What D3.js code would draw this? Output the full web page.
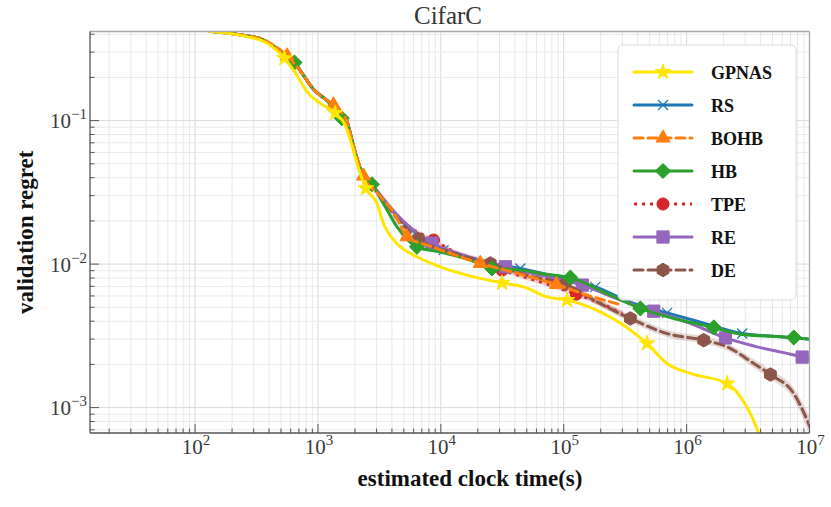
<!DOCTYPE html>
<html>
<head>
<meta charset="utf-8">
<script src="https://cdn.jsdelivr.net/npm/d3@7"></script>
<style>
  body { margin: 0; background: #fff; }
  svg { display: block; }
</style>
</head>
<body>
<div id="chart"></div>
<script>
// values: estimated clock time (s) vs validation regret
var gpnasTime = [132,264,384,533,673,812,1042,1380,1665,1888,2138,2455,3018,3415,4395,6387,9886,18460,31470,47200,73100,106400,198600,476400,693000,1074000,2138000,2742000,3305000,3865000,4300000];
var gpnasRegret = [0.418,0.385,0.347,0.272,0.208,0.159,0.132,0.113,0.0933,0.0676,0.0465,0.0337,0.0265,0.0192,0.0139,0.01125,0.00957,0.00815,0.0074,0.00694,0.00591,0.00561,0.00465,0.0028,0.00203,0.00173,0.00147,0.00119,0.000908,0.000663,0.00052];
var gpnasMarks = [3,7,11,18,21,23,26];

var rsTime = [132,232,358,492,628,758,914,1167,1516,1729,1935,2206,2612,3396,4416,6388,10520,17350,25260,44320,70830,113200,180900,348500,693700,1295000,2831000,4812000,1e7];
var rsRegret = [0.4195,0.3963,0.3658,0.3065,0.2610,0.2084,0.1664,0.1395,0.1168,0.0979,0.0677,0.0468,0.0380,0.0284,0.02163,0.01619,0.01252,0.01101,0.01016,0.00933,0.00852,0.00773,0.00694,0.00543,0.00457,0.00394,0.00328,0.00315,0.0030];
var rsMarks = [16,19,22,24,26];

var bohbTime = [132,232,358,561,758,914,1337,1516,1729,1935,2347,3210,4254,5297,8196,13100,20940,44320,87050,164700,300100];
var bohbRegret = [0.4195,0.3963,0.3658,0.2828,0.2084,0.1664,0.1287,0.1168,0.0979,0.0677,0.0411,0.0298,0.02197,0.01551,0.01335,0.01156,0.01011,0.00852,0.00722,0.00598,0.00518];
var bohbMarks = [3,6,10,13,16,18];

var hbTime = [132,232,358,492,644,758,914,1167,1565,1729,1935,2206,2748,3396,4416,6388,9888,17350,26080,44320,70830,113200,225200,420500,785200,1662000,2743000,7449000,1e7];
var hbRegret = [0.4195,0.3963,0.3658,0.3065,0.2539,0.2084,0.1664,0.1395,0.1039,0.0948,0.0677,0.0468,0.0360,0.0266,0.01812,0.0132,0.01213,0.01066,0.00933,0.00908,0.00852,0.00805,0.00625,0.00491,0.00418,0.00362,0.00325,0.00308,0.0030];
var hbMarks = [4,8,12,15,18,21,23,25,27];

var tpeTime = [132,232,358,492,628,758,914,1167,1516,1729,1935,2206,2612,3396,4671,8720,14390,31450,64490,126600,198600,300100];
var tpeRegret = [0.4195,0.3963,0.3658,0.3065,0.2610,0.2084,0.1664,0.1395,0.1168,0.0979,0.0677,0.0468,0.0380,0.0280,0.02028,0.01471,0.01156,0.00908,0.00752,0.00618,0.00534,0.00448];
var tpeMarks = [15,17,19];
var tpeSpread = [1,1,1,1,1,1,1,1,1,1,1,1,1,1.02,1.03,1.03,1.03,1.03,1.04,1.04,1.05,1.06];

var reTime = [132,232,358,492,628,758,914,1167,1516,1729,1935,2206,2612,3396,4671,8461,14390,33460,64490,141700,289100,539700,1074000,2070000,3752000,8719000,1e7];
var reRegret = [0.4195,0.3963,0.3658,0.3065,0.2610,0.2084,0.1664,0.1395,0.1168,0.0979,0.0677,0.0468,0.0380,0.0284,0.02094,0.01401,0.01174,0.00958,0.00838,0.00714,0.00561,0.0047,0.00386,0.00306,0.00265,0.00225,0.00217];
var reMarks = [15,17,19,21,23,25];

var deTime = [132,232,358,492,628,758,914,1167,1516,1729,1935,2206,2612,3396,4671,6582,11930,25260,53460,103000,186700,348500,693700,1378000,2137000,3519000,4812000,7449000,9579000,11000000];
var deRegret = [0.4195,0.3963,0.3658,0.3065,0.2610,0.2084,0.1664,0.1395,0.1168,0.0979,0.0677,0.0468,0.0380,0.0280,0.01964,0.01494,0.01213,0.01011,0.00825,0.00725,0.00546,0.00418,0.00328,0.00295,0.00265,0.00203,0.0017,0.00125,0.000815,0.0006];
var deMarks = [15,17,19,21,23,26];
var deSpread = [1,1,1,1,1,1,1,1,1,1,1.02,1.04,1.06,1.08,1.09,1.08,1.06,1.05,1.05,1.05,1.05,1.06,1.06,1.06,1.06,1.07,1.08,1.1,1.15,1.22];

var xMajor = [1e2,1e3,1e4,1e5,1e6,1e7];
var yMajor = [1e-3,1e-2,1e-1];
var methodNames = ["GPNAS","RS","BOHB","HB","TPE","RE","DE"];

// set the dimensions of the graph (plot box in px)
var W = 831, H = 507;
var pL = 90, pR = 809.5, pT = 31.5, pB = 433;

var svg = d3.select("#chart").append("svg")
    .attr("width", W).attr("height", H)
    .style("font-family", "'Liberation Serif', 'Times New Roman', serif");

var x = d3.scaleLog().domain([Math.pow(10, 1.145), 1e7]).range([pL, pR]);
var y = d3.scaleLog().domain([Math.pow(10, -3.177), Math.pow(10, -0.379)]).range([pB, pT]);

// custom markers
var symHex = { draw: function(ctx, size) {
  var r = Math.sqrt(size / 2.598);
  for (var i = 0; i < 6; i++) {
    var a = Math.PI / 3 * i - Math.PI / 2;
    if (i === 0) ctx.moveTo(r * Math.cos(a), r * Math.sin(a));
    else ctx.lineTo(r * Math.cos(a), r * Math.sin(a));
  }
  ctx.closePath();
}};
var symCross = { draw: function(ctx, size) {
  var r = Math.sqrt(size) / 2;
  ctx.moveTo(-r, -r); ctx.lineTo(r, r);
  ctx.moveTo(-r, r); ctx.lineTo(r, -r);
}};
var symDiamond = { draw: function(ctx, size) {
  var r = Math.sqrt(size / 2);
  ctx.moveTo(0, -r); ctx.lineTo(r, 0); ctx.lineTo(0, r); ctx.lineTo(-r, 0); ctx.closePath();
}};

var series = [
  {name: "GPNAS", t: gpnasTime, v: gpnasRegret, m: gpnasMarks, color: "#ffe600", dash: null, sym: d3.symbolStar, size: 75},
  {name: "RS", t: rsTime, v: rsRegret, m: rsMarks, color: "#1f77b4", dash: null, sym: symCross, size: 100, open: true},
  {name: "BOHB", t: bohbTime, v: bohbRegret, m: bohbMarks, color: "#ff7f0e", dash: "9,5", sym: d3.symbolTriangle, size: 85},
  {name: "HB", t: hbTime, v: hbRegret, m: hbMarks, color: "#2ca02c", dash: null, sym: symDiamond, size: 115},
  {name: "TPE", t: tpeTime, v: tpeRegret, m: tpeMarks, color: "#d62728", dash: "3,5", sym: d3.symbolCircle, size: 115, band: tpeSpread},
  {name: "RE", t: reTime, v: reRegret, m: reMarks, color: "#9467bd", dash: null, sym: d3.symbolSquare, size: 150},
  {name: "DE", t: deTime, v: deRegret, m: deMarks, color: "#8c564b", dash: "9,5", sym: symHex, size: 120, band: deSpread}
];

// grid
var xAll = x.ticks(), yAll = y.ticks();
function isMajor(v) { var l = Math.log10(v); return Math.abs(l - Math.round(l)) < 1e-6; }

var grid = svg.append("g");
grid.selectAll("line.vx").data(xAll).enter().append("line")
  .attr("x1", function(d){ return x(d); }).attr("x2", function(d){ return x(d); })
  .attr("y1", pT).attr("y2", pB)
  .attr("stroke", function(d){ return isMajor(d) ? "#d9d9d9" : "#e9e9e9"; })
  .attr("stroke-width", 1);
grid.selectAll("line.hy").data(yAll).enter().append("line")
  .attr("y1", function(d){ return y(d); }).attr("y2", function(d){ return y(d); })
  .attr("x1", pL).attr("x2", pR)
  .attr("stroke", function(d){ return isMajor(d) ? "#d9d9d9" : "#e9e9e9"; })
  .attr("stroke-width", 1);

svg.append("clipPath").attr("id", "plotclip").append("rect")
  .attr("x", pL).attr("y", pT).attr("width", pR - pL).attr("height", pB - pT);

var plot = svg.append("g").attr("clip-path", "url(#plotclip)");

var line = d3.line()
  .x(function(d){ return x(d[0]); })
  .y(function(d){ return y(d[1]); })
  .curve(d3.curveMonotoneX);

// shaded bands first
series.forEach(function(s) {
  if (!s.band) return;
  var pts = s.t.map(function(t, i){ return [t, s.v[i], s.band[i]]; });
  plot.append("path")
    .datum(pts)
    .attr("d", d3.area()
      .x(function(d){ return x(d[0]); })
      .y0(function(d){ return y(d[1] / d[2]); })
      .y1(function(d){ return y(d[1] * d[2]); })
      .curve(d3.curveMonotoneX))
    .attr("fill", s.color)
    .attr("opacity", 0.22);
});

// drawing order so the overlaps look like the reference
var order = ["RS", "TPE", "RE", "DE", "HB", "BOHB", "GPNAS"];
order.forEach(function(nm) {
  var s = series.find(function(d){ return d.name === nm; });
  var pts = s.t.map(function(t, i){ return [t, s.v[i]]; });
  var g = plot.append("g");
  g.append("path")
    .datum(pts)
    .attr("d", line)
    .attr("fill", "none")
    .attr("stroke", s.color)
    .attr("stroke-width", 3)
    .attr("stroke-dasharray", s.dash)
    .attr("stroke-linecap", s.name === "TPE" ? "butt" : "round");
  g.selectAll("path.mk")
    .data(s.m.map(function(i){ return pts[i]; }))
    .enter().append("path")
    .attr("transform", function(d){ return "translate(" + x(d[0]) + "," + y(d[1]) + ")"; })
    .attr("d", d3.symbol().type(s.sym).size(s.size))
    .attr("fill", s.open ? "none" : s.color)
    .attr("stroke", s.color)
    .attr("stroke-width", s.open ? 1.3 : 1);
});

// frame
svg.append("line").attr("x1", pL).attr("x2", pR).attr("y1", pT).attr("y2", pT).attr("stroke", "#a8a8a8").attr("stroke-width", 1.3);
svg.append("line").attr("x1", pR).attr("x2", pR).attr("y1", pT).attr("y2", pB).attr("stroke", "#a8a8a8").attr("stroke-width", 1.3);
svg.append("line").attr("x1", pL).attr("x2", pR).attr("y1", pB).attr("y2", pB).attr("stroke", "#555").attr("stroke-width", 1.3);
svg.append("line").attr("x1", pL).attr("x2", pL).attr("y1", pT).attr("y2", pB).attr("stroke", "#555").attr("stroke-width", 1.3);

// inward ticks
var ticks = svg.append("g").attr("stroke", "#555").attr("stroke-width", 1);
ticks.selectAll("line.xt").data(xAll).enter().append("line")
  .attr("x1", function(d){ return x(d); }).attr("x2", function(d){ return x(d); })
  .attr("y1", pB).attr("y2", function(d){ return pB - (isMajor(d) ? 9 : 4.5); });
ticks.selectAll("line.yt").data(yAll).enter().append("line")
  .attr("y1", function(d){ return y(d); }).attr("y2", function(d){ return y(d); })
  .attr("x1", pL).attr("x2", function(d){ return pL + (isMajor(d) ? 9 : 4.5); });

// tick labels as 10^k
function powLabel(sel, v) {
  var k = Math.round(Math.log10(v));
  sel.append("tspan").text("10");
  sel.append("tspan").attr("dy", -9).attr("font-size", 15).text(k < 0 ? "\u2212" + (-k) : String(k));
}
xMajor.forEach(function(v) {
  var t = svg.append("text").attr("x", x(v) + 1).attr("y", 453.5)
    .attr("text-anchor", "middle").attr("font-size", 21).attr("fill", "#3a3a3a");
  powLabel(t, v);
});
yMajor.forEach(function(v) {
  var t = svg.append("text").attr("x", 87).attr("y", y(v) + 7.5)
    .attr("text-anchor", "end").attr("font-size", 21).attr("fill", "#3a3a3a");
  powLabel(t, v);
});

// title and axis labels
svg.append("text").attr("x", 448).attr("y", 23.5).attr("text-anchor", "middle")
  .attr("font-size", 25).attr("fill", "#333").text("CifarC");
svg.append("text").attr("x", 470).attr("y", 485.5).attr("text-anchor", "middle")
  .attr("font-size", 23).attr("font-weight", "bold").attr("fill", "#111").text("estimated clock time(s)");
svg.append("text").attr("transform", "translate(33," + ((pT + pB) / 2) + ") rotate(-90)")
  .attr("text-anchor", "middle").attr("font-size", 23).attr("font-weight", "bold").attr("fill", "#111")
  .text("validation regret");

// legend
var lg = svg.append("g");
lg.append("rect").attr("x", 618).attr("y", 45).attr("width", 178).attr("height", 255)
  .attr("rx", 5).attr("fill", "#fff").attr("fill-opacity", 0.92)
  .attr("stroke", "#dcdcdc").attr("stroke-width", 1);
methodNames.forEach(function(nm, i) {
  var s = series.find(function(d){ return d.name === nm; });
  var cy = 72 + i * 33;
  lg.append("line").attr("x1", 634).attr("x2", 692).attr("y1", cy).attr("y2", cy)
    .attr("stroke", s.color).attr("stroke-width", 3)
    .attr("stroke-dasharray", s.dash).attr("stroke-linecap", s.name === "TPE" ? "butt" : "round");
  lg.append("path").attr("transform", "translate(663," + cy + ")")
    .attr("d", d3.symbol().type(s.sym).size(s.size))
    .attr("fill", s.open ? "none" : s.color).attr("stroke", s.color)
    .attr("stroke-width", s.open ? 1.3 : 1);
  lg.append("text").attr("x", 711).attr("y", cy + 6.5)
    .attr("font-size", 18).attr("font-weight", "bold").attr("fill", "#111").text(nm);
});
</script>
</body>
</html>
